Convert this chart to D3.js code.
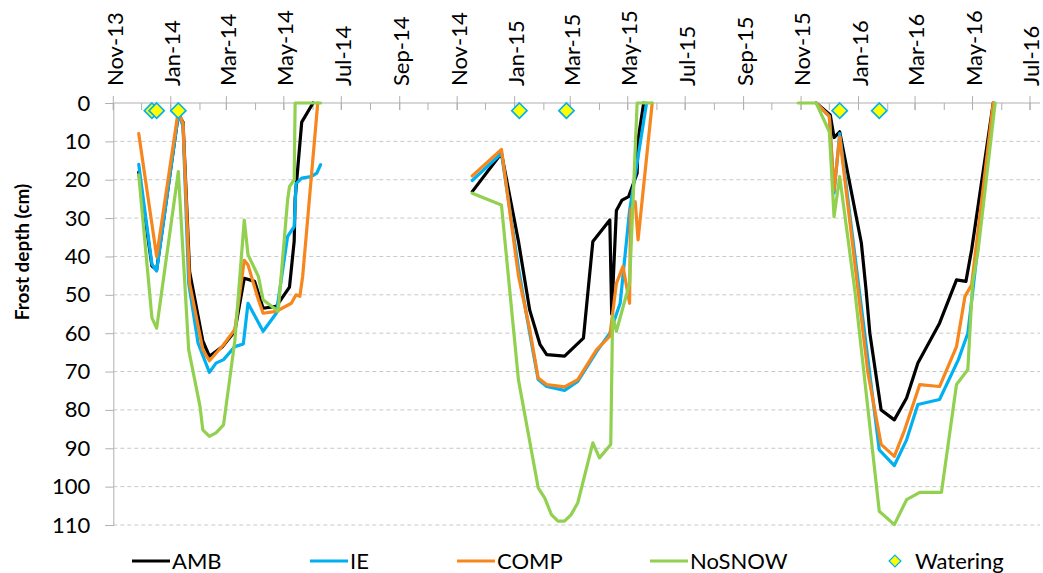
<!DOCTYPE html>
<html><head><meta charset="utf-8">
<script src="https://cdn.jsdelivr.net/npm/d3@7"></script>
<style>body{margin:0;background:#fff}svg{display:block}</style>
</head><body>
<svg id="c" width="1043" height="573"></svg>
<script>
// ---------------- DATA ----------------
const seriesNames = ["AMB", "IE", "COMP", "NoSNOW"];
const xTickLabels = ["Nov-13","Jan-14","Mar-14","May-14","Jul-14","Sep-14","Nov-14","Jan-15","Mar-15","May-15","Jul-15","Sep-15","Nov-15","Jan-16","Mar-16","May-16","Jul-16"];
const yTickValues = [0,10,20,30,40,50,60,70,80,90,100,110];

const AMB = [
 ["2013-11-28",18],["2013-12-12",42.5],["2013-12-17",43.5],["2014-01-09",3],["2014-01-14",5],
 ["2014-01-21",44],["2014-02-04",62],["2014-02-11",66],["2014-02-25",63.5],["2014-03-10",59.5],
 ["2014-03-20",45.7],["2014-03-31",46.5],["2014-04-09",53.5],["2014-04-23",53],["2014-05-07",48],
 ["2014-05-12",36],["2014-05-13",25],["2014-05-20",5],["2014-06-01",0],
 ["2014-09-01",null],
 ["2014-11-17",23.1],["2014-12-18",13.1],["2015-01-05",36],["2015-01-17",54],["2015-01-28",63],
 ["2015-02-04",65.6],["2015-02-23",66],["2015-03-15",61.3],["2015-03-25",36.1],["2015-04-12",30.5],
 ["2015-04-14",55],["2015-04-19",28],["2015-04-25",25.3],["2015-05-02",24.4],["2015-05-11",18.3],
 ["2015-05-12",9.6],["2015-05-18",0],
 ["2015-09-01",null],
 ["2015-11-17",0],["2015-12-02",3.1],["2015-12-06",9],["2015-12-12",7.5],["2016-01-04",36.5],
 ["2016-01-09",48.7],["2016-01-13",60],["2016-01-25",80],["2016-02-08",82.6],["2016-02-21",76.9],
 ["2016-03-04",67.8],["2016-03-27",57.4],["2016-04-14",46.1],["2016-04-24",46.5],["2016-04-30",38.3],
 ["2016-05-23",0]
];

const IE = [
 ["2013-11-28",16],["2013-12-12",42],["2013-12-17",43.8],["2014-01-09",3],["2014-01-14",6],
 ["2014-01-20",47],["2014-01-30",62.6],["2014-02-11",70.2],["2014-02-18",67.8],["2014-02-26",66.9],
 ["2014-03-10",63.5],["2014-03-19",62.8],["2014-03-24",52.2],["2014-04-09",59.5],["2014-04-23",54.8],
 ["2014-05-05",34.8],["2014-05-12",32.2],["2014-05-14",21],["2014-05-20",19.6],["2014-05-30",19.2],
 ["2014-06-05",18.3],["2014-06-09",16.1],
 ["2014-09-01",null],
 ["2014-11-17",20.2],["2014-12-18",13.1],["2015-01-05",43],["2015-01-17",60],["2015-01-26",72.1],
 ["2015-02-04",73.9],["2015-02-23",74.9],["2015-03-09",72.6],["2015-03-29",64.8],["2015-04-12",60],
 ["2015-04-23",52.2],["2015-05-03",28],["2015-05-21",0],
 ["2015-09-01",null],
 ["2015-11-17",0],["2015-12-01",3.5],["2015-12-06",23.5],["2015-12-12",8],["2016-01-23",90.4],
 ["2016-02-08",94.5],["2016-02-21",87.8],["2016-03-04",78.6],["2016-03-27",77.3],["2016-04-16",66.9],
 ["2016-04-26",60],["2016-05-01",49.6],["2016-05-24",0]
];

const COMP = [
 ["2013-11-28",8],["2013-12-17",40],["2014-01-09",2],["2014-01-14",5.3],["2014-01-21",47],
 ["2014-02-04",64.3],["2014-02-11",67.2],["2014-02-26",63],["2014-03-10",59],["2014-03-20",41],
 ["2014-03-24",42.2],["2014-04-04",51.3],["2014-04-09",54.8],["2014-04-23",54.3],["2014-05-09",52.2],
 ["2014-05-14",50],["2014-05-18",50.4],["2014-05-21",45.2],["2014-06-06",0],
 ["2014-09-01",null],
 ["2014-11-17",19],["2014-12-18",12.1],["2015-01-05",45],["2015-01-17",59],["2015-01-26",71.7],
 ["2015-02-04",73.4],["2015-02-23",74],["2015-03-09",72.1],["2015-03-29",64.3],["2015-04-12",60.8],
 ["2015-04-19",47],["2015-04-26",42.6],["2015-05-03",52.2],["2015-05-04",28],["2015-05-09",25.7],
 ["2015-05-12",35.7],["2015-05-27",0],
 ["2015-09-01",null],
 ["2015-11-17",0],["2015-12-01",3.5],["2015-12-06",22.7],["2015-12-12",8.8],["2016-01-11",70.4],
 ["2016-01-25",89],["2016-02-08",92.1],["2016-02-19",85.2],["2016-03-06",73.4],["2016-03-27",73.9],
 ["2016-04-14",63.5],["2016-04-23",50.4],["2016-04-30",47.4],["2016-05-23",0]
];

const NoSNOW = [
 ["2013-11-28",18.7],["2013-12-12",56],["2013-12-17",58.7],["2014-01-09",17.9],["2014-01-20",64.3],
 ["2014-02-01",79],["2014-02-04",85.2],["2014-02-11",86.9],["2014-02-18",86],["2014-02-26",83.9],
 ["2014-03-10",62],["2014-03-20",30.5],["2014-03-24",39.6],["2014-04-04",45.2],["2014-04-09",51.3],
 ["2014-04-25",54.3],["2014-05-05",25.3],["2014-05-07",21.8],["2014-05-12",20],["2014-05-13",0],
 ["2014-06-09",0],
 ["2014-09-01",null],
 ["2014-11-17",23.5],["2014-12-18",26.6],["2015-01-05",72.1],["2015-01-26",100.3],["2015-02-02",103],
 ["2015-02-09",107.3],["2015-02-16",109],["2015-02-23",109],["2015-03-02",107.3],["2015-03-09",104.2],
 ["2015-03-17",96.4],["2015-03-25",88.6],["2015-04-01",92.5],["2015-04-13",89],["2015-04-15",55.6],
 ["2015-04-19",59.5],["2015-05-03",47],["2015-05-11",0],["2015-05-27",0],
 ["2015-09-01",null],
 ["2015-10-29",0],["2015-11-17",0],["2015-12-01",7.5],["2015-12-06",29.6],["2015-12-12",19.2],
 ["2015-12-28",48.7],["2016-01-23",106.4],["2016-02-08",109.9],["2016-02-21",103.4],["2016-03-06",101.5],
 ["2016-03-29",101.5],["2016-04-14",73.4],["2016-04-26",69.5],["2016-05-01",47],["2016-05-07",38.3],
 ["2016-05-25",0]
];

const wateringDates = ["2013-12-12","2013-12-17","2014-01-09","2015-01-06","2015-02-25","2015-12-12","2016-01-23"];
const wateringDepth = [2,2,2,2,2,2,2];

// ---------------- STYLE / LAYOUT ----------------
const colors = {AMB:"#000000", IE:"#00b0f0", COMP:"#f7861c", NoSNOW:"#92d050"};
const FONT = "Lato, 'Liberation Sans', sans-serif";
const pL = 113.3, pR = 1040, pT = 103, pB = 525;

const svg = d3.select("#c");
const parseDay = d3.timeParse("%Y-%m-%d");
const parseTick = d3.timeParse("%b-%y");

const x = d3.scaleTime()
  .domain([parseTick("Nov-13"), parseTick("Jul-16")])
  .range([pL, 1030]);
const y = d3.scaleLinear().domain([0, 110]).range([pT, pB]);

// gridlines
svg.append("g").selectAll("line").data(yTickValues.filter(v => v > 0)).join("line")
  .attr("x1", pL).attr("x2", pR)
  .attr("y1", d => y(d)).attr("y2", d => y(d))
  .attr("stroke", "#c8c8c8").attr("stroke-width", 1).attr("stroke-dasharray", "4,3");

// y axis
const yAxis = d3.axisLeft(y).tickValues(yTickValues).tickSize(8).tickPadding(15);
const gy = svg.append("g").attr("transform", `translate(${pL},0)`).call(yAxis);
gy.select(".domain").attr("stroke", "#b0b0b0");
gy.selectAll(".tick line").attr("stroke", "#b0b0b0");
gy.selectAll(".tick text").attr("font-family", FONT).attr("font-size", 22).attr("fill", "#000");

// x axis (top)
const majorDates = xTickLabels.map(parseTick);
const minorDates = d3.timeMonth.range(parseTick("Nov-13"), d3.timeMonth.offset(parseTick("Jul-16"), 1));
svg.append("line").attr("x1", pL).attr("x2", pR).attr("y1", pT).attr("y2", pT)
  .attr("stroke", "#b0b0b0");
svg.append("g").selectAll("line").data(minorDates).join("line")
  .attr("x1", d => x(d)).attr("x2", d => x(d)).attr("y1", pT).attr("y2", pT + 7)
  .attr("stroke", "#b0b0b0");
svg.append("g").selectAll("line").data(majorDates).join("line")
  .attr("x1", d => x(d)).attr("x2", d => x(d)).attr("y1", pT - 7).attr("y2", pT + 7)
  .attr("stroke", "#b0b0b0");
svg.append("g").selectAll("text").data(xTickLabels).join("text")
  .attr("transform", d => `translate(${x(parseTick(d)) + 1.5},86) rotate(-90)`)
  .attr("dy", "0.36em")
  .attr("text-anchor", "start")
  .attr("font-family", FONT).attr("font-size", 22).attr("fill", "#000")
  .text(d => d);

// axis title
svg.append("text").attr("transform", "translate(29,252) rotate(-90)")
  .attr("text-anchor", "middle").attr("font-family", FONT).attr("font-weight", "bold")
  .attr("font-size", 19).attr("fill", "#000").text("Frost depth (cm)");

// lines
const seriesData = {AMB, IE, COMP, NoSNOW};
const line = d3.line()
  .defined(d => d[1] != null)
  .x(d => x(parseDay(d[0])))
  .y(d => y(d[1]));
const lg = svg.append("g");
seriesNames.forEach(name => {
  lg.append("path").datum(seriesData[name])
    .attr("d", line).attr("fill", "none")
    .attr("stroke", colors[name]).attr("stroke-width", 3.2)
    .attr("stroke-linejoin", "round").attr("stroke-linecap", "round");
});

// watering diamonds
const diamond = d3.symbol().type(d3.symbolDiamond2).size(150);
svg.append("g").selectAll("path").data(wateringDates.map((d, i) => [d, wateringDepth[i]])).join("path")
  .attr("transform", d => `translate(${x(parseDay(d[0]))},${y(d[1])})`)
  .attr("d", diamond).attr("fill", "#ffff00").attr("stroke", "#00b0f0").attr("stroke-width", 1.6);

// legend
const legY = 561;
const legItems = [
  {name:"AMB", x0:132}, {name:"IE", x0:310}, {name:"COMP", x0:457}, {name:"NoSNOW", x0:650}
];
const leg = svg.append("g");
legItems.forEach(it => {
  leg.append("line").attr("x1", it.x0).attr("x2", it.x0 + 38).attr("y1", legY).attr("y2", legY)
    .attr("stroke", colors[it.name]).attr("stroke-width", 3.2);
  leg.append("text").attr("x", it.x0 + 40).attr("y", legY).attr("dy", "0.36em")
    .attr("font-family", FONT).attr("font-size", 22).attr("fill", "#000").text(it.name);
});
leg.append("path").attr("transform", `translate(895,${legY})`)
  .attr("d", d3.symbol().type(d3.symbolDiamond2).size(90))
  .attr("fill", "#ffff00").attr("stroke", "#00b0f0").attr("stroke-width", 1.2);
leg.append("text").attr("x", 915).attr("y", legY).attr("dy", "0.36em")
  .attr("font-family", FONT).attr("font-size", 22).attr("fill", "#000").text("Watering");
</script>
</body></html>
